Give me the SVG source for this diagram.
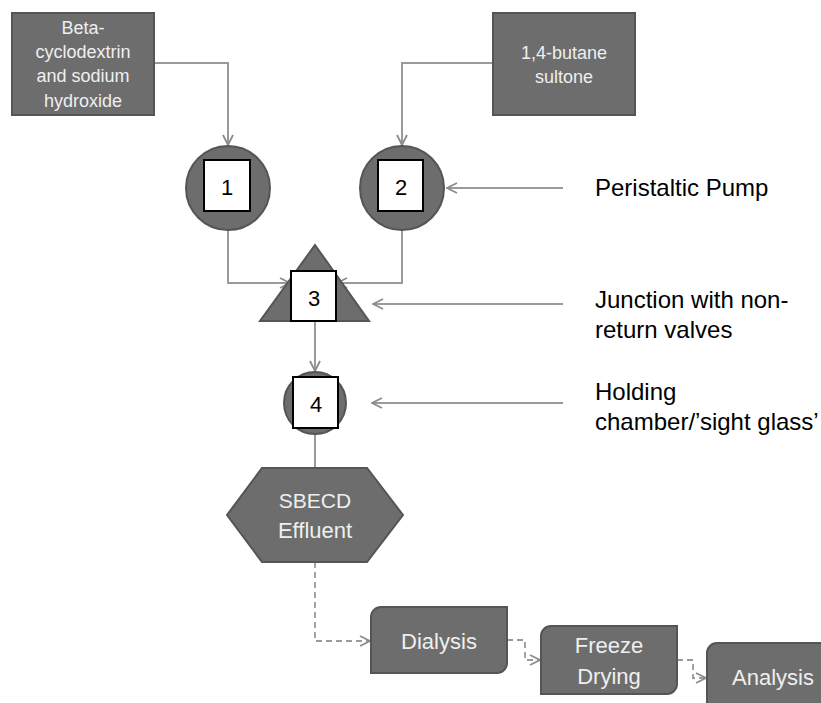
<svg xmlns="http://www.w3.org/2000/svg" width="821" height="703" viewBox="0 0 821 703">
<defs>
<style>
.shape{fill:#6d6d6d;stroke:#555;stroke-width:2}
.sq{fill:#fff;stroke:#000;stroke-width:2}
.lt{font-family:"Liberation Sans",Arial,sans-serif;fill:#efefef;text-anchor:middle}
.num{font-family:"Liberation Sans",Arial,sans-serif;font-size:22px;fill:#000;text-anchor:middle}
.lbl{font-family:"Liberation Sans",Arial,sans-serif;font-size:24px;fill:#000}
.c{fill:none;stroke:#9a9a9a;stroke-width:2}
.d{fill:none;stroke:#9a9a9a;stroke-width:1.8;stroke-dasharray:6 4}
</style>
<marker id="ah" viewBox="0 0 12 12" refX="11" refY="6" markerWidth="12" markerHeight="12" markerUnits="userSpaceOnUse" orient="auto">
<path d="M1,1 L11,6 L1,11" fill="none" stroke="#8c8c8c" stroke-width="1.8"/>
</marker>
</defs>
<rect width="821" height="703" fill="#fff"/>
<g id="connectors">
<path class="c" d="M154,63 H228 V145" marker-end="url(#ah)"/>
<path class="c" d="M493,63 H402 V145" marker-end="url(#ah)"/>
<path class="c" d="M228,230 V283 H290" marker-end="url(#ah)"/>
<path class="c" d="M402,230 V283 H337" marker-end="url(#ah)"/>
<path class="c" d="M315,321 V371" marker-end="url(#ah)"/>
<path class="c" d="M315,434 V468"/>
<path class="c" d="M563,188 H447" marker-end="url(#ah)"/>
<path class="c" d="M563,304 H373" marker-end="url(#ah)"/>
<path class="c" d="M563,403 H372" marker-end="url(#ah)"/>
<path class="d" d="M315,562 V641 H370" marker-end="url(#ah)"/>
<path class="d" d="M507,640 H525 V660 H540" marker-end="url(#ah)"/>
<path class="d" d="M677,660 H693 V678 H706" marker-end="url(#ah)"/>
</g>
<g id="beta">
<rect class="shape" x="12" y="13" width="142" height="102"/>
<text class="lt" font-size="18" x="83" y="34">Beta-</text>
<text class="lt" font-size="18" x="83" y="58">cyclodextrin</text>
<text class="lt" font-size="18" x="83" y="82">and sodium</text>
<text class="lt" font-size="18" x="83" y="107">hydroxide</text>
</g>
<g id="sultone">
<rect class="shape" x="493" y="13" width="142" height="102"/>
<text class="lt" font-size="18" x="564" y="59">1,4-butane</text>
<text class="lt" font-size="18" x="564" y="83">sultone</text>
</g>
<g id="pump1">
<circle class="shape" cx="228" cy="188" r="42"/>
<rect class="sq" x="204" y="160" width="46" height="51"/>
<text class="num" x="227" y="195">1</text>
</g>
<g id="pump2">
<circle class="shape" cx="402" cy="188" r="42"/>
<rect class="sq" x="378" y="160" width="45" height="51"/>
<text class="num" x="401" y="195">2</text>
</g>
<g id="junction3">
<polygon class="shape" points="315,245 369,321 260,321"/>
<rect class="sq" x="291" y="271" width="45" height="50"/>
<text class="num" x="314" y="306">3</text>
</g>
<g id="holding4">
<circle class="shape" cx="315" cy="403" r="31"/>
<rect class="sq" x="293" y="377" width="45" height="51"/>
<text class="num" x="316" y="412">4</text>
</g>
<g id="effluent">
<polygon class="shape" points="262,468 367,468 403,515 367,562 262,562 227,515"/>
<text class="lt" font-size="21" x="315" y="508">SBECD</text>
<text class="lt" font-size="22" x="315" y="538">Effluent</text>
</g>
<g id="dialysis">
<path class="shape" d="M381,607 H507 V663 A10,10 0 0 1 497,673 H371 V617 A10,10 0 0 1 381,607 Z"/>
<text class="lt" font-size="22" x="439" y="649">Dialysis</text>
</g>
<g id="freeze">
<path class="shape" d="M551,626 H677 V684 A10,10 0 0 1 667,694 H541 V636 A10,10 0 0 1 551,626 Z"/>
<text class="lt" font-size="22" x="609" y="653">Freeze</text>
<text class="lt" font-size="22" x="609" y="684">Drying</text>
</g>
<g id="analysis">
<path class="shape" d="M717,643 H843 V711 H707 V653 A10,10 0 0 1 717,643 Z"/>
<text class="lt" font-size="22" x="732" y="685" style="text-anchor:start">Analysis</text>
</g>
<g id="labels">
<text class="lbl" x="595" y="196">Peristaltic Pump</text>
<text class="lbl" x="595" y="308">Junction with non-</text>
<text class="lbl" x="595" y="338">return valves</text>
<text class="lbl" x="595" y="400">Holding</text>
<text class="lbl" x="595" y="430">chamber/’sight glass’</text>
</g>
</svg>
